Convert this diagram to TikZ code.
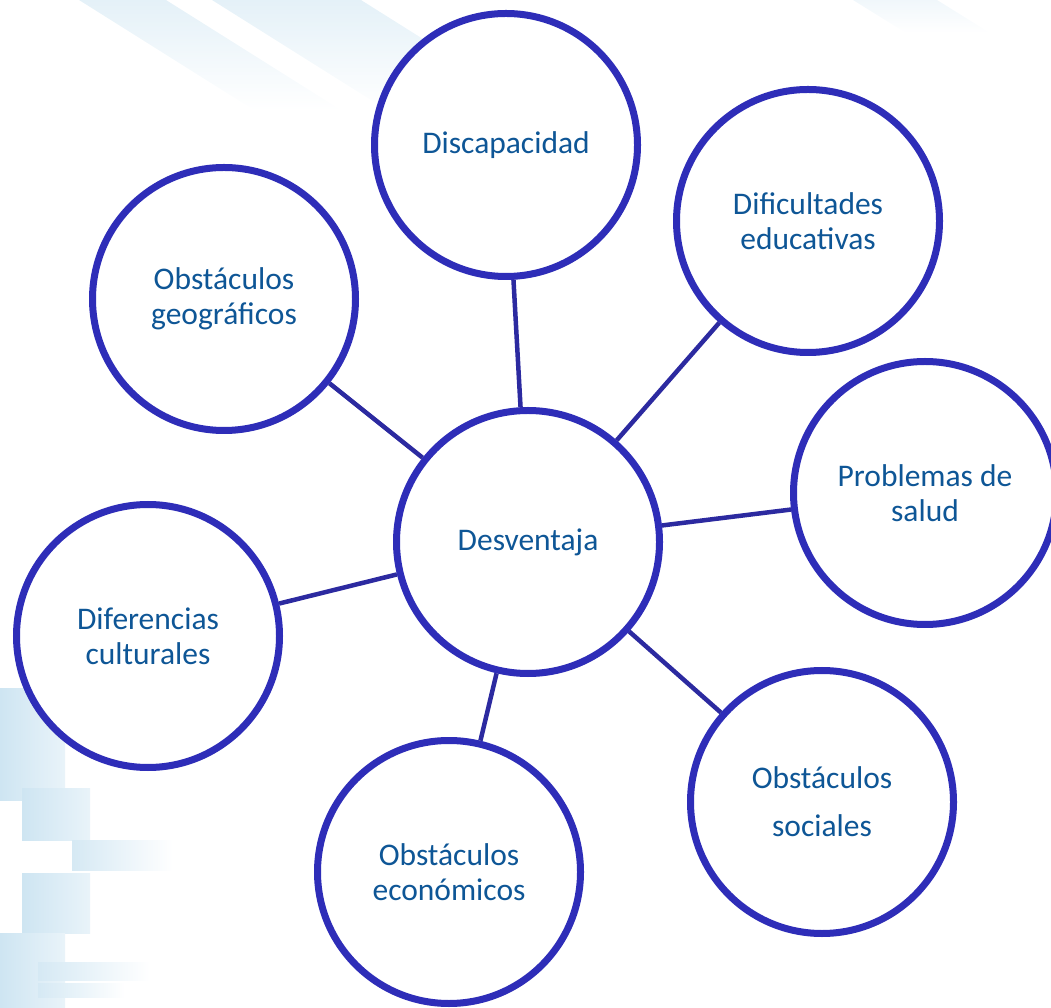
\documentclass[tikz,border=0pt]{standalone}
\usepackage{fontspec}
\setmainfont{Carlito}
\usetikzlibrary{shadows,fadings}
\definecolor{ringblue}{RGB}{46,45,184}
\definecolor{linkblue}{RGB}{44,42,160}
\definecolor{txtblue}{RGB}{14,86,150}
\definecolor{bgblue}{RGB}{206,229,242}
\begin{document}
\begin{tikzpicture}[x=1pt,y=1pt,
  bubble/.style={circle, draw=ringblue, line width=7pt, fill=white,
    minimum size=263pt, inner sep=0pt, text=txtblue, align=center,
    font=\fontsize{31.5}{35}\selectfont,
    drop shadow={shadow xshift=1.5pt, shadow yshift=-3pt, opacity=0.28, fill=black!60}},
  spoke/.style={draw=linkblue, line width=4.5pt},
  band/.style={fill=bgblue, path fading=south, fill opacity=0.55},
  block/.style={left color=bgblue, right color=bgblue!45!white},
  bar/.style={left color=bgblue!85!white, right color=white}]
\useasboundingbox (0,0) rectangle (1051,1007);
\clip (0,0) rectangle (1051,1007);
% background decoration
\fill[band] (79,1007) -- (166,1007) -- (341,897) -- (254,897) -- cycle;
\fill[band] (212,1007) -- (361,1007) -- (536,897) -- (387,897) -- cycle;
\fill[band, fill opacity=0.3] (853,1007) -- (937,1007) -- (990,974) -- (906,974) -- cycle;
\shade[block] (0,207) rectangle (65,319);
\shade[block] (22,167) rectangle (90,219);
\shade[bar] (72,137) rectangle (173,167);
\shade[block] (22,74) rectangle (90,134);
\shade[block] (0,0) rectangle (65,74);
\shade[bar] (38,27) rectangle (150,45);
\shade[bar] (38,10) rectangle (125,24);
% nodes
\node[bubble] (des) at (528,465) {Desventaja};
\node[bubble] (disc) at (506,862) {Discapacidad};
\node[bubble] (dif) at (808,786) {Dificultades\\educativas};
\node[bubble] (geo) at (224,708) {Obstáculos\\geográficos};
\node[bubble] (sal) at (925,514) {Problemas de\\salud};
\node[bubble] (cul) at (148,371) {Diferencias\\culturales};
\node[bubble] (soc) at (822,205) {Obstáculos\\[13pt]sociales};
\node[bubble] (eco) at (449,135) {Obstáculos\\económicos};
% connectors
\foreach \n in {disc,dif,geo,sal,cul,soc,eco}
  \draw[spoke] (des) -- (\n);
\end{tikzpicture}
\end{document}
